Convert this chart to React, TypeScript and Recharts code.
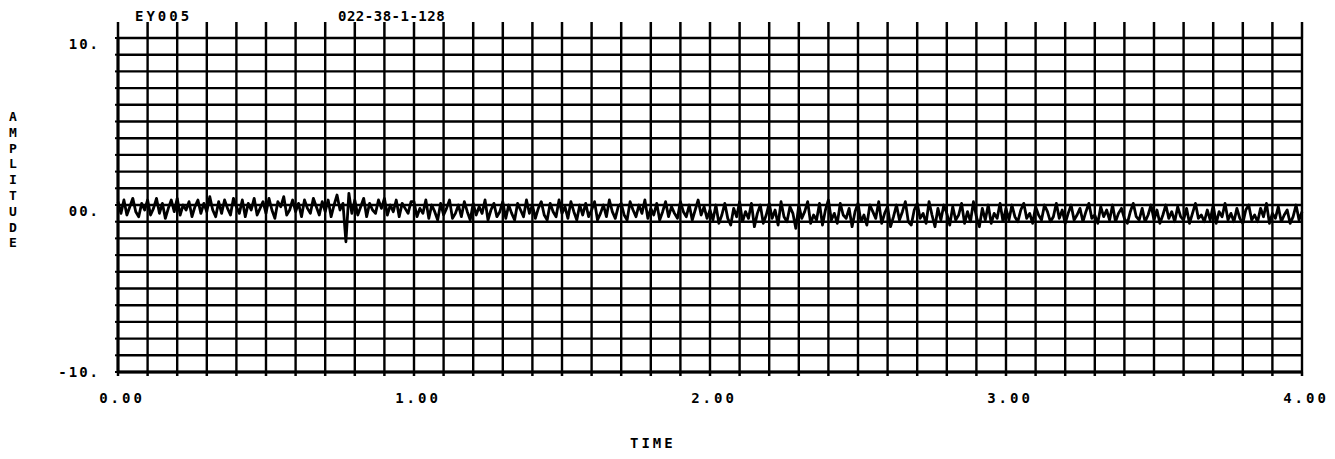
import { LineChart, Line, XAxis, YAxis, CartesianGrid } from 'recharts'

// trace values, one array per second of record
const sec0 = [
  0.2, -0.5, 0.3, -0.6, -0.1, 0.4, -0.4, -0.7, 0.1, -0.3,
  0.3, -0.6, -0.2, 0.4, -0.5, 0.1, -0.8, -0.2, 0.3, -0.4,
  0.4, -0.6, 0.0, -0.3, 0.2, -0.7, -0.1, 0.3, -0.5, 0.1,
  -0.4, 0.5, -0.3, -0.7, 0.2, -0.5, 0.3, -0.2, -0.6, 0.4,
  -0.1, -0.5, 0.3, -0.7, 0.1, -0.3, 0.4, -0.6, -0.2, 0.2,
  -0.5, 0.4, -0.3, -0.8, 0.2, -0.1, 0.5, -0.6, -0.3, 0.3,
  -0.4, 0.1, -0.7, 0.3, -0.2, -0.5, 0.4, -0.1, -0.6, 0.2,
  -0.4, 0.3, -0.7, 0.0, 0.6, -0.3, 0.1, -2.2, 0.7, -0.5,
  0.3, -0.6, -0.1, 0.4, -0.7, 0.1, -0.3, -0.5, 0.3, -0.2,
  0.4, -0.6, 0.0, -0.4, 0.3, -0.7, 0.1, -0.2, -0.5, 0.2,
]
const sec1 = [
  0.2, -0.7, -0.2, -0.5, 0.3, -0.8, 0.0, -0.4, -0.9, 0.1,
  -0.6, -0.2, 0.3, -0.8, -0.5, 0.0, -0.7, 0.2, -0.4, -0.9,
  0.1, -0.6, -0.1, -0.5, 0.3, -0.9, -0.3, 0.1, -0.7, -0.4,
  0.2, -0.8, 0.0, -0.5, -0.9, 0.1, -0.3, -0.7, 0.3, -0.5,
  0.0, -0.8, -0.2, 0.2, -0.6, -0.9, 0.1, -0.4, -0.7, 0.3,
  -0.5, -0.1, -0.8, 0.2, -0.4, -0.9, 0.0, -0.6, 0.1, -0.7,
  -0.3, 0.2, -0.9, -0.5, 0.0, -0.7, 0.3, -0.4, -0.8, -0.1,
  0.1, -0.6, -0.9, 0.2, -0.3, -0.7, 0.0, -0.5, 0.3, -0.8,
  -0.2, -0.6, 0.1, -0.9, -0.4, 0.2, -0.7, -0.1, -0.5, -0.8,
  0.2, -0.4, -0.7, 0.0, -0.9, -0.3, 0.3, -0.6, -0.1, -0.8,
]
const sec2 = [
  -0.3, -0.9, 0.0, -1.1, -0.6, 0.1, -0.8, -1.2, -0.2, -0.7,
  0.2, -1.0, -0.4, -0.8, 0.1, -1.3, -0.5, 0.0, -1.1, -0.6,
  0.1, -0.8, -0.3, -1.2, 0.2, -0.7, -1.0, -0.1, -0.5, -1.4,
  0.0, -0.8, -0.4, 0.2, -1.1, -0.6, -0.9, 0.1, -1.2, -0.3,
  0.3, -0.9, -0.5, -1.1, 0.1, -0.6, -0.8, -0.2, -1.3, -0.4,
  0.1, -1.0, -0.6, -1.2, 0.0, -0.4, -0.8, 0.2, -1.1, -0.5,
  -0.1, -1.3, -0.7, 0.0, -0.9, -0.4, 0.2, -1.0, -1.2, -0.3,
  0.1, -0.8, -0.5, -1.1, 0.2, -0.6, -1.3, -0.2, -0.9, 0.0,
  -0.5, -1.2, -0.1, -0.9, -0.6, 0.1, -1.1, -0.4, -1.0, 0.2,
  -0.7, -1.3, -0.2, -0.9, 0.0, -1.1, -0.5, -0.8, 0.1, -1.0,
]
const sec3 = [
  -0.2, -0.9, 0.0, -0.7, -1.0, -0.3, 0.1, -0.8, -0.5, -1.1,
  -0.1, -0.6, -0.9, 0.0, -0.4, -1.0, -0.7, 0.1, -0.8, -0.3,
  -1.1, -0.5, 0.0, -0.9, -0.6, -0.2, -1.0, -0.4, 0.1, -0.8,
  -0.6, -1.1, -0.1, -0.7, -0.3, -0.9, 0.0, -1.0, -0.5, -0.2,
  -0.8, -1.1, -0.4, 0.1, -0.7, -0.9, -0.2, -1.0, -0.6, 0.0,
  -0.9, -0.3, -1.1, -0.6, 0.0, -0.8, -0.4, -1.0, -0.1, -0.7,
  -0.9, -0.2, -1.1, -0.5, 0.1, -0.8, -0.6, -1.0, -0.3, -0.9,
  0.0, -1.1, -0.4, -0.7, 0.1, -0.9, -0.5, -1.0, -0.2, -0.8,
  -1.1, -0.3, 0.0, -0.9, -0.6, -1.0, -0.2, -0.7, 0.1, -1.1,
  -0.5, -0.8, -0.1, -1.0, -0.6, -0.3, -1.1, -0.7, 0.0, -0.9,
]
const lastValue = -0.4

const xTicks = [
  0, 0.1, 0.2, 0.3, 0.4, 0.5, 0.6, 0.7, 0.8, 0.9,
  1, 1.1, 1.2, 1.3, 1.4, 1.5, 1.6, 1.7, 1.8, 1.9,
  2, 2.1, 2.2, 2.3, 2.4, 2.5, 2.6, 2.7, 2.8, 2.9,
  3, 3.1, 3.2, 3.3, 3.4, 3.5, 3.6, 3.7, 3.8, 3.9, 4,
]
const yTicks = [-10, -9, -8, -7, -6, -5, -4, -3, -2, -1, 0, 1, 2, 3, 4, 5, 6, 7, 8, 9, 10]
const yLabels: Record<number, string> = { 10: '10.', 0: '00.', [-10]: '-10.' }

const recordId = 'EY005'
const runId = '022-38-1-128'
const yTitle = 'AMPLITUDE'
const xTitle = 'TIME'

const data = [sec0, sec1, sec2, sec3]
  .flatMap((sec, s) => sec.map((amp, i) => ({ t: s + i / 100, amp })))
  .concat([{ t: 4, amp: lastValue }])

const font = '"DejaVu Sans Mono", monospace'

function XTick({ x, y, payload }: any) {
  if (!Number.isInteger(payload.value)) return <g />
  return (
    <text x={x + 4} y={y + 25} textAnchor="middle" fontFamily={font} fontWeight="bold"
      fontSize={14} letterSpacing={3} fill="#000">
      {payload.value.toFixed(2)}
    </text>
  )
}

function YTick({ x, y, payload }: any) {
  const label = yLabels[payload.value]
  if (!label) return <g />
  const dy = payload.value === -10 ? 5 : 11
  return (
    <text x={x - 13} y={y + dy} textAnchor="end" fontFamily={font} fontWeight="bold"
      fontSize={14} letterSpacing={2} fill="#000">
      {label}
    </text>
  )
}

const textStyle = {
  position: 'absolute' as const,
  fontFamily: font,
  fontWeight: 'bold' as const,
  color: '#000',
  lineHeight: 1,
}

export default function App() {
  return (
    <div style={{ position: 'absolute', left: 0, top: 0, width: 1335, height: 459, background: '#fff' }}>
      <LineChart width={1335} height={459} data={data} margin={{ top: 18, right: 33, bottom: 57, left: 0 }}>
        <CartesianGrid stroke="#000" strokeWidth={2.4} />
        <XAxis dataKey="t" type="number" domain={[0, 4]} ticks={xTicks} interval={0} height={30}
          tickSize={4} tick={<XTick />} axisLine={{ stroke: '#000', strokeWidth: 3 }}
          tickLine={{ stroke: '#000', strokeWidth: 2.5 }} />
        <XAxis xAxisId="top" orientation="top" dataKey="t" type="number" domain={[0, 4]} ticks={xTicks}
          interval={0} height={20} tickSize={16} tickFormatter={() => ''} axisLine={false}
          tickLine={{ stroke: '#000', strokeWidth: 2.5 }} />
        <YAxis type="number" domain={[-10, 10]} ticks={yTicks} interval={0} width={118} tickSize={3}
          tick={<YTick />} axisLine={{ stroke: '#000', strokeWidth: 3 }}
          tickLine={{ stroke: '#000', strokeWidth: 2 }} />
        <Line dataKey="amp" type="linear" stroke="#000" strokeWidth={2.8} strokeLinejoin="round"
          dot={false} isAnimationActive={false} />
      </LineChart>
      <div style={{ ...textStyle, left: 135, top: 9, fontSize: 14, letterSpacing: 3 }}>{recordId}</div>
      <div style={{ ...textStyle, left: 338, top: 9, fontSize: 14, letterSpacing: 0.5 }}>{runId}</div>
      <div style={{ ...textStyle, left: 630, top: 436, fontSize: 14, letterSpacing: 3 }}>{xTitle}</div>
      <div style={{ ...textStyle, left: 7, top: 110, width: 12, fontSize: 13, textAlign: 'center' }}>
        {yTitle.split('').map((ch, i) => (
          <div key={i} style={{ height: 15.8 }}>{ch}</div>
        ))}
      </div>
    </div>
  )
}
